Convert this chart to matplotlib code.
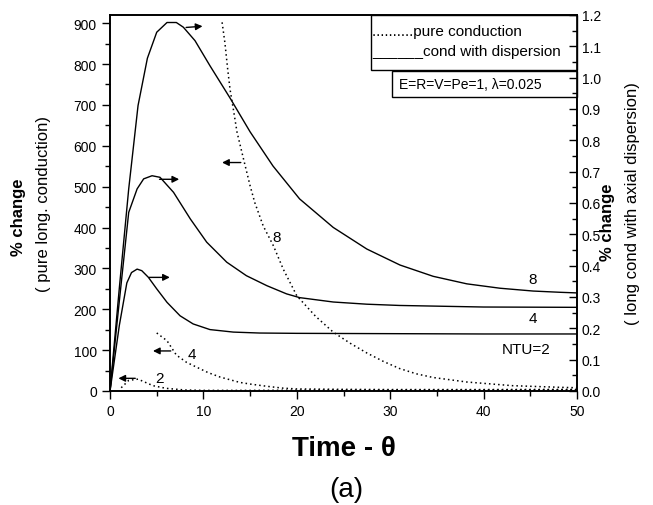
import matplotlib
matplotlib.use("Agg")
import matplotlib.pyplot as plt
from matplotlib.patches import Rectangle
from matplotlib.ticker import MultipleLocator, FormatStrFormatter

plt.rcParams["font.family"] = ["Liberation Sans", "DejaVu Sans"]

# cond with axial dispersion (right axis)
x_d8 = [0, 1.0, 2.0, 3.0, 4.0, 5.0, 6.1, 7.1, 7.85, 9.1, 10.7, 12.85, 15.0, 17.45, 20.3,
        23.9, 27.5, 31.05, 34.6, 38.2, 41.75, 45.3, 48.2, 50]
y_d8 = [0, 0.33, 0.645, 0.911, 1.062, 1.145, 1.176, 1.176, 1.161, 1.118, 1.038, 0.935,
        0.827, 0.718, 0.613, 0.522, 0.453, 0.402, 0.366, 0.342, 0.328, 0.319, 0.315, 0.313]
x_d4 = [0, 0.9, 2.0, 2.9, 3.6, 4.5, 5.35, 6.8, 8.6, 10.35, 12.5, 14.6, 16.8, 18.9, 20.3,
        23.9, 27.5, 31, 40, 50]
y_d4 = [0, 0.26, 0.57, 0.645, 0.677, 0.687, 0.682, 0.634, 0.549, 0.475, 0.411, 0.368,
        0.336, 0.310, 0.298, 0.284, 0.277, 0.273, 0.268, 0.267]
x_d2 = [0, 1.0, 1.8, 2.3, 2.9, 3.4, 4.1, 5.0, 6.1, 7.5, 8.9, 10.7, 13.2, 16, 20, 30, 40, 50]
y_d2 = [0, 0.21, 0.345, 0.378, 0.389, 0.384, 0.363, 0.326, 0.283, 0.240, 0.214, 0.196,
        0.188, 0.185, 0.184, 0.183, 0.182, 0.182]

# pure long. conduction (left axis)
x_c8 = [12.0, 12.3, 12.6, 12.85, 13.2, 13.6, 14.3, 15.0, 15.5, 16.4, 17.5, 18.55, 20.0,
        22.0, 23.9, 25.7, 27.5, 29.3, 31.0, 32.8, 34.6, 38.2, 43.1, 48.2, 50]
y_c8 = [902, 852, 787, 738, 690, 633, 567, 502, 461, 404, 355, 298, 233,
        183, 144, 117, 93, 72, 55, 42, 33, 22, 13, 9, 8]
x_c4 = [5.0, 6.1, 7.1, 8.2, 9.3, 10.5, 11.8, 13.9, 15, 16.8, 18.5, 20, 25, 30, 40, 50]
y_c4 = [142, 123, 88, 70, 58, 45, 34, 21, 17, 11.5, 7, 5, 4, 3.5, 3.5, 4]
x_c2 = [1.2, 2.0, 3.0, 3.8, 4.6, 6.0, 8.0, 10, 15, 20, 30, 40, 50]
y_c2 = [8, 26, 29, 21, 13, 6.5, 2.5, 1.5, 1.5, 2, 2, 2.5, 3]

fig = plt.figure(figsize=(6.53, 5.06), dpi=100)
ax = fig.add_axes([0.1685, 0.2253, 0.7151, 0.7431])
ax2 = ax.twinx()

dot = (0, (1, 2))
ax.plot(x_c8, y_c8, color="black", lw=1.1, ls=dot)
ax.plot(x_c4, y_c4, color="black", lw=1.1, ls=dot)
ax.plot(x_c2, y_c2, color="black", lw=1.1, ls=dot)
ax2.plot(x_d8, y_d8, color="black", lw=1.0)
ax2.plot(x_d4, y_d4, color="black", lw=1.0)
ax2.plot(x_d2, y_d2, color="black", lw=1.0)

ax.set_xlim(0, 50)
ax.set_ylim(0, 920)
ax2.set_ylim(0, 1.2)

ax.xaxis.set_major_locator(MultipleLocator(10))
ax.xaxis.set_minor_locator(MultipleLocator(5))
ax.yaxis.set_major_locator(MultipleLocator(100))
ax.yaxis.set_minor_locator(MultipleLocator(50))
ax2.yaxis.set_major_locator(MultipleLocator(0.1))
ax2.yaxis.set_minor_locator(MultipleLocator(0.05))
ax2.yaxis.set_major_formatter(FormatStrFormatter("%.1f"))

ax.tick_params(which="major", direction="out", length=6, width=1, labelsize=10)
ax.tick_params(which="minor", direction="out", length=3.5, width=1)
ax2.tick_params(which="major", direction="in", length=6, width=1, labelsize=10)
ax2.tick_params(which="minor", direction="in", length=3.5, width=1)
for a in (ax, ax2):
    for s in a.spines.values():
        s.set_linewidth(1.2)

ax.set_xlabel("Time - \u03b8", fontsize=20, fontweight="bold", labelpad=12)
fig.text(0.530, 0.032, "(a)", fontsize=20, ha="center", va="center")

fig.text(0.028, 0.570, "% change", rotation=90, fontsize=12, fontweight="bold",
         ha="center", va="center")
fig.text(0.066, 0.597, "( pure long. conduction)", rotation=90, fontsize=12,
         ha="center", va="center")
fig.text(0.930, 0.560, "% change", rotation=90, fontsize=12, fontweight="bold",
         ha="center", va="center")
fig.text(0.968, 0.597, "( long cond with axial dispersion)", rotation=90, fontsize=12,
         ha="center", va="center")

# arrows
arr = dict(arrowstyle="-|>", color="black", lw=1.0, mutation_scale=10)
ax.annotate("", xy=(10.2, 893), xytext=(7.85, 889), arrowprops=arr)
ax.annotate("", xy=(11.7, 559), xytext=(14.3, 559), arrowprops=arr)
ax.annotate("", xy=(7.7, 518), xytext=(5.0, 518), arrowprops=arr)
ax.annotate("", xy=(6.7, 278), xytext=(3.9, 278), arrowprops=arr)
ax.annotate("", xy=(4.3, 98), xytext=(6.8, 98), arrowprops=arr)
ax.annotate("", xy=(0.6, 31), xytext=(3.0, 31), arrowprops=arr)

# curve labels
ax.text(17.85, 376, "8", fontsize=11, ha="center", va="center")
ax.text(8.75, 90, "4", fontsize=11, ha="center", va="center")
ax.text(5.3, 33, "2", fontsize=11, ha="center", va="center")
ax.text(45.3, 274, "8", fontsize=11, ha="center", va="center")
ax.text(45.3, 178, "4", fontsize=11, ha="center", va="center")
ax.text(44.6, 103, "NTU=2", fontsize=11, ha="center", va="center")

# legend boxes (axes fraction)
ax.add_patch(Rectangle((0.559, 0.855), 0.441, 0.145, transform=ax.transAxes,
                       fill=True, facecolor="white", edgecolor="black", lw=1.0,
                       clip_on=False, zorder=5))
ax.text(0.562, 0.958, "..........pure conduction", transform=ax.transAxes,
        fontsize=11, ha="left", va="center", zorder=6)
ax.text(0.562, 0.905, "______cond with dispersion", transform=ax.transAxes,
        fontsize=11, ha="left", va="center", zorder=6)
ax.add_patch(Rectangle((0.604, 0.783), 0.396, 0.068, transform=ax.transAxes,
                       fill=True, facecolor="white", edgecolor="black", lw=1.0,
                       clip_on=False, zorder=5))
ax.text(0.618, 0.817, "E=R=V=Pe=1, \u03bb=0.025", transform=ax.transAxes,
        fontsize=10, ha="left", va="center", zorder=6)

fig.savefig("out.png", dpi=100)
